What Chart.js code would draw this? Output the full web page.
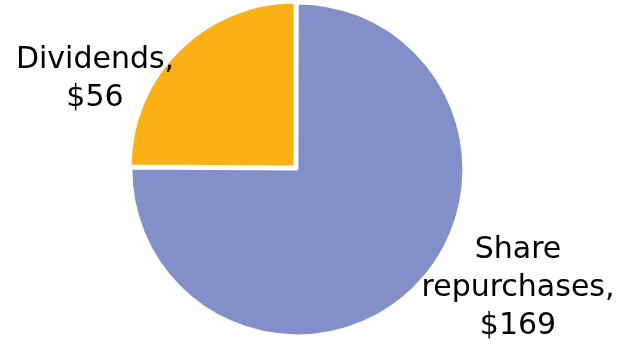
<!DOCTYPE html>
<html>
<head>
<meta charset="utf-8">
<script src="https://cdn.jsdelivr.net/npm/chart.js@4/dist/chart.umd.min.js"></script>
<style>
  html, body { margin: 0; padding: 0; background: #fff; overflow: hidden; }
  #wrap { width: 618px; height: 350px; position: absolute; top: -1px; left: 0; }
</style>
</head>
<body>
<div id="wrap"><canvas id="grafica_pie"></canvas></div>
<script>
/*-----Datos-----*/
const categorias = ['Share repurchases', 'Dividends'];
const valores = [169, 56];
const etiquetas = [['Share', 'repurchases,', '$169'], ['Dividends,', '$56']];
const colores = ['#838fc8', '#fbb116'];

/*-----Etiquetas de texto-----*/
const etiquetasPlugin = {
  id: 'etiquetas',
  afterDraw(chart) {
    const ctx = chart.ctx;
    const arc = chart.getDatasetMeta(0).data[0];
    const cx = arc.x, cy = arc.y, r = arc.outerRadius;
    // posiciones relativas al centro de la tarta
    const pos = [
      { x: cx + r + 58, y: cy + 90 },
      { x: cx - r - 37, y: cy - 100 }
    ];
    ctx.save();
    ctx.fillStyle = '#000';
    ctx.font = '30px "DejaVu Sans"';
    ctx.textAlign = 'center';
    ctx.textBaseline = 'alphabetic';
    etiquetas.forEach((lineas, i) => {
      lineas.forEach((t, j) => {
        ctx.fillText(t, pos[i].x, pos[i].y + j * 38);
      });
    });
    ctx.restore();
  }
};

const grafica_pie = document.getElementById('grafica_pie');

new Chart(grafica_pie, {
  type: 'pie',
  data: {
    labels: categorias,
    datasets: [{
      data: valores,
      backgroundColor: colores,
      borderColor: '#ffffff',
      borderWidth: 2,
      offset: [8, 8]
    }]
  },
  options: {
    responsive: true,
    maintainAspectRatio: false,
    animation: false,
    layout: {
      padding: { top: 0, bottom: 12, left: 0, right: 26 }
    },
    plugins: {
      legend: { display: false },
      tooltip: { enabled: false }
    }
  },
  plugins: [etiquetasPlugin]
});
</script>
</body>
</html>
